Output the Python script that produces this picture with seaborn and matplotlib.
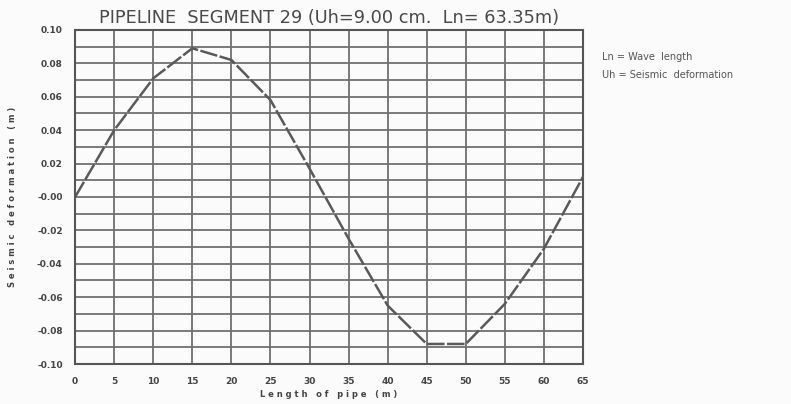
import pandas as pd
import seaborn as sns
import matplotlib.pyplot as plt
from matplotlib.ticker import MultipleLocator

# values
length_m = [0, 5, 10, 15, 20, 25, 30, 35, 40, 45, 50, 55, 60, 65]
deformation_m = [0.0, 0.040, 0.071, 0.089, 0.082, 0.058, 0.017, -0.025,
                 -0.065, -0.088, -0.088, -0.064, -0.031, 0.012]
x_ticks = [0, 5, 10, 15, 20, 25, 30, 35, 40, 45, 50, 55, 60, 65]
y_ticks = [0.10, 0.08, 0.06, 0.04, 0.02, 0.00, -0.02, -0.04, -0.06, -0.08, -0.10]
y_tick_labels = ['0.10', '0.08', '0.06', '0.04', '0.02', '-0.00',
                 '-0.02', '-0.04', '-0.06', '-0.08', '-0.10']

df = pd.DataFrame({'Length': length_m, 'Deformation': deformation_m})

sns.set_style('white')
plt.rcParams['font.family'] = ['DejaVu Sans']

fig = plt.figure(figsize=(7.91, 4.04), dpi=100)
fig.patch.set_facecolor('#fbfbfb')
ax = fig.add_axes([0.095, 0.099, 0.642, 0.827])
ax.set_facecolor('#fbfbfb')

sns.lineplot(data=df, x='Length', y='Deformation', ax=ax, color='#5a5a5a',
             linewidth=1.8, linestyle=(0, (7, 1)))

ax.set_xlim(0, 65)
ax.set_ylim(-0.10, 0.10)
ax.set_xticks(x_ticks)
ax.set_xticklabels([str(t) for t in x_ticks], fontsize=6.5, fontweight='bold', color='#444444')
ax.set_yticks(y_ticks)
ax.set_yticklabels(y_tick_labels, fontsize=6.5, fontweight='bold', color='#444444')
ax.yaxis.set_minor_locator(MultipleLocator(0.01))
ax.grid(which='both', color='#707070', linewidth=1.3)
ax.tick_params(axis='x', length=0, pad=9)
ax.tick_params(axis='y', length=0, pad=9)
for s in ax.spines.values():
    s.set_color('#555555')
    s.set_linewidth(1.5)

ax.set_title('PIPELINE  SEGMENT 29 (Uh=9.00 cm.  Ln= 63.35m)', fontsize=12.8,
             color='#4a4a4a', pad=5)
ax.set_xlabel('L e n g t h   o f   p i p e   ( m )', fontsize=6, fontweight='bold',
              color='#444444', labelpad=3)
ax.set_ylabel('S e i s m i c   d e f o r m a t i o n   ( m )', fontsize=6,
              fontweight='bold', color='#444444', labelpad=14)

fig.text(0.761, 0.858, 'Ln = Wave  length', fontsize=7, color='#555555', va='center')
fig.text(0.761, 0.815, 'Uh = Seismic  deformation', fontsize=7, color='#555555', va='center')

fig.savefig('out.png', dpi=100, facecolor=fig.get_facecolor())
